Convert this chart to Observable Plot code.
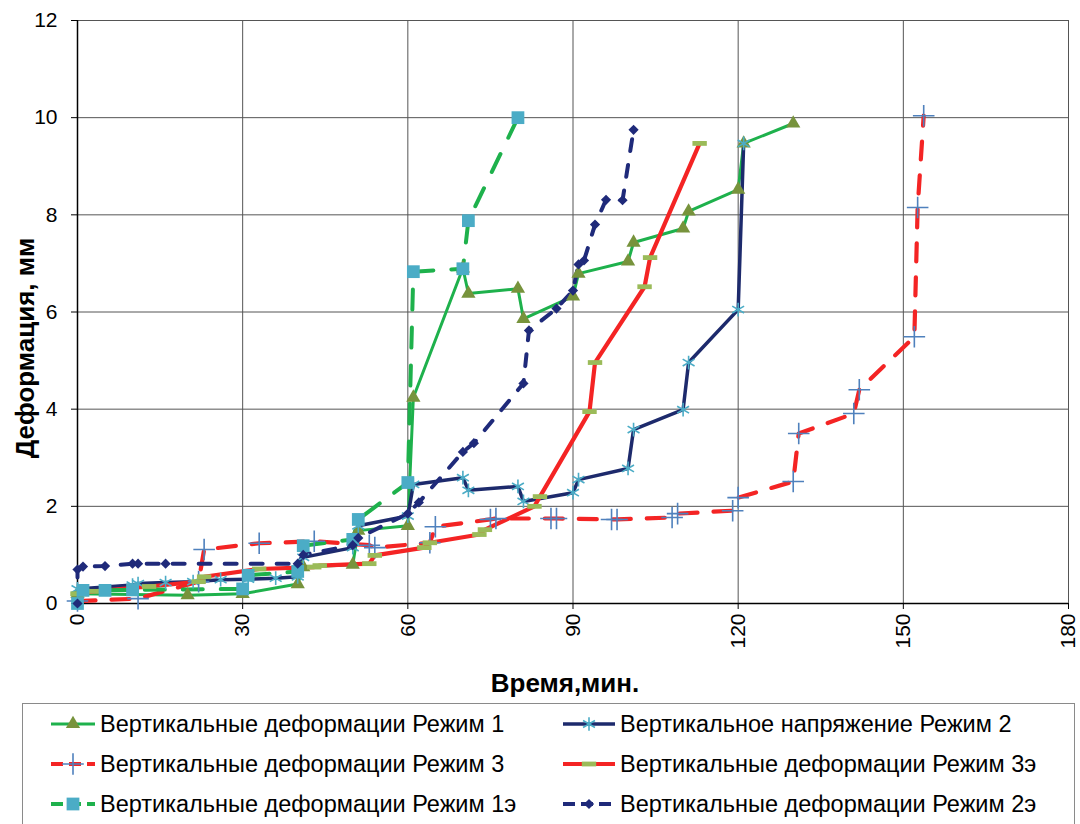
<!DOCTYPE html>
<html><head><meta charset="utf-8">
<script src="https://cdn.jsdelivr.net/npm/d3@7"></script>
<script src="https://cdn.jsdelivr.net/npm/@observablehq/plot@0.6"></script>
<style>
body{margin:0;background:#fff;font-family:"Liberation Sans",Arial,sans-serif;}
#chart svg{display:block}
#legend{position:absolute;left:22px;top:703px;width:1053px;height:140px;border:1.5px solid #8a8a8a;box-sizing:border-box;background:#fff}
.item{position:absolute;display:flex;align-items:center;font-size:23.5px;color:#000;white-space:nowrap;height:30px}
.item svg{display:block}
</style></head><body>
<div id="chart"></div><div id="legend"></div>
<script>
// ---- data ----
const xTicks = [0, 30, 60, 90, 120, 150, 180];
const yTicks = [0, 2, 4, 6, 8, 10, 12];
const seriesNames = [
  "Вертикальные деформации Режим 1",
  "Вертикальное напряжение Режим 2",
  "Вертикальные деформации Режим 3",
  "Вертикальные деформации Режим 3э",
  "Вертикальные деформации Режим 1э",
  "Вертикальные деформации Режим 2э"
];
const xLabel = "Время,мин.";
const yLabel = "Деформация, мм";

const rezhim1 = [[0,0.2],[20,0.17],[30,0.2],[40,0.4],[41,0.75],[50,0.8],[51,1.5],[60,1.6],[61,4.24],[70,6.9],[71,6.38],[80,6.48],[81,5.86],[90,6.32],[91,6.79],[100,7.04],[101,7.43],[110,7.72],[111,8.07],[120,8.52],[121,9.47],[130,9.88]];
const rezhim2 = [[0,0.3],[10,0.38],[11,0.41],[16,0.43],[21,0.45],[26,0.49],[31,0.5],[36,0.52],[40,0.55],[41,0.95],[50,1.15],[51,1.6],[60,1.8],[61,2.45],[70,2.59],[71,2.33],[80,2.41],[81,2.1],[90,2.28],[91,2.55],[100,2.78],[101,3.58],[110,3.99],[111,4.96],[120,6.05],[121,9.47]];
const rezhim3 = [[0,0.05],[11,0.1],[22,0.45],[23,1.11],[33,1.24],[43,1.28],[53,1.2],[54,1.15],[64,1.25],[65,1.58],[75,1.73],[76,1.75],[86,1.75],[87,1.75],[97,1.73],[98,1.73],[108,1.77],[109,1.85],[119,1.91],[120,2.18],[130,2.51],[131,3.5],[141,3.91],[142,4.4],[152,5.49],[152.6,8.15],[153.7,10.04]];
const rezhim3e = [[0,0.2],[3,0.25],[13,0.35],[22,0.45],[23,0.55],[33,0.71],[43,0.75],[44,0.78],[53,0.82],[54,0.99],[63,1.15],[64,1.25],[73,1.42],[74,1.52],[83,2.0],[84,2.2],[93,3.95],[94,4.96],[103,6.52],[104,7.12],[113,9.47]];
const rezhim1e = [[0,0],[1,0.27],[5,0.27],[10,0.28],[30,0.3],[31,0.58],[40,0.66],[41,1.19],[50,1.32],[51,1.73],[60,2.49],[61,6.83],[70,6.89],[71,7.88],[80,10.0]];
const rezhim2e = [[0,0],[0,0.7],[1,0.76],[5,0.77],[10,0.82],[11,0.82],[16,0.82],[40,0.82],[41,1.0],[50,1.2],[51,1.35],[60,1.85],[62,2.08],[70,3.12],[72,3.3],[81,4.53],[82,5.62],[87,6.07],[90,6.44],[91,6.98],[92,7.06],[94,7.8],[96,8.31],[99,8.3],[101,9.75]];

// ---- styles ----
const dashSymbol = {draw(ctx, size){ const r = Math.sqrt(size/Math.PI); const w = r*1.2, h = r*0.4;
  ctx.moveTo(-w,-h); ctx.lineTo(w,-h); ctx.lineTo(w,h); ctx.lineTo(-w,h); ctx.closePath(); }};
const series = [
  {name: seriesNames[0], data: rezhim1, stroke:"#1eb14c", width:3, dash:null, symbol:"triangle", r:5.3, fill:"#77933c", mstroke:"none"},
  {name: seriesNames[1], data: rezhim2, stroke:"#1d2a6c", width:3.5, dash:null, symbol:"asterisk", r:6.5, fill:"none", mstroke:"#4bacc6"},
  {name: seriesNames[2], data: rezhim3, stroke:"#f42424", width:4.2, dash:"18,16", symbol:"plus", r:7, fill:"none", mstroke:"#4f81bd"},
  {name: seriesNames[3], data: rezhim3e, stroke:"#f42424", width:4.2, dash:null, symbol:dashSymbol, r:6, fill:"#9bbb59", mstroke:"none"},
  {name: seriesNames[4], data: rezhim1e, stroke:"#1eb14c", width:4, dash:"20,18", symbol:"square", r:7.2, fill:"#4bacc6", mstroke:"none"},
  {name: seriesNames[5], data: rezhim2e, stroke:"#1f2a7a", width:4, dash:"12,14", symbol:"diamond2", r:4.6, fill:"#1f2a7a", mstroke:"none"}
];

const marks = [
  Plot.gridX(xTicks, {stroke:"#555", strokeOpacity:1, strokeWidth:1}),
  Plot.gridY(yTicks, {stroke:"#555", strokeOpacity:1, strokeWidth:1}),
  Plot.axisY(yTicks, {tickSize:6, tickPadding:14, label:null, fontSize:21}),
  Plot.axisX(xTicks, {tickSize:6, tickPadding:4, tickRotate:-90, label:null, fontSize:21}),
  Plot.text([yLabel], {frameAnchor:"left", textAnchor:"middle", lineAnchor:"middle", rotate:-90, dx:-52, dy:36, fontSize:26, fontWeight:"bold", fill:"#000"}),
  Plot.text([xLabel], {frameAnchor:"bottom", textAnchor:"middle", lineAnchor:"middle", dx:-8, dy:80, fontSize:26, fontWeight:"bold", fill:"#000"}),
  Plot.ruleX([0], {stroke:"#000", strokeWidth:1.5}),
  Plot.ruleY([0], {stroke:"#000", strokeWidth:1.5})
];
for (const s of series) {
  const rows = s.data.map(([t,v]) => ({t, v}));
  marks.push(Plot.line(rows, {x:"t", y:"v", stroke:s.stroke, strokeWidth:s.width, strokeDasharray:s.dash, strokeLinecap: s.dash ? "round" : "butt", strokeLinejoin:"round"}));
}
for (const s of series) {
  const rows = s.data.map(([t,v]) => ({t, v}));
  marks.push(Plot.dot(rows, {x:"t", y:"v", symbol:s.symbol, r:s.r, fill:s.fill, stroke:s.mstroke, strokeWidth:1.6}));
}

const chart = Plot.plot({
  width:1080, height:700,
  marginLeft:77, marginRight:12, marginTop:20, marginBottom:97,
  style:{fontFamily:"'Liberation Sans', Arial, sans-serif", fontSize:"21px", color:"#000", background:"#fff"},
  x:{domain:[0,180]},
  y:{domain:[0,12]},
  marks
});
document.getElementById("chart").appendChild(chart);

// ---- legend ----
const legend = d3.select("#legend");
// [left, top, icon width] in legend box
const pos = [[25,5,50],[537,5,58],[25,45,50],[537,45,58],[25,85,50],[537,85,58]];
const symType = s => typeof s.symbol === "string" ? ({triangle:d3.symbolTriangle, asterisk:d3.symbolAsterisk, plus:d3.symbolPlus, square:d3.symbolSquare, diamond2:d3.symbolDiamond2})[s.symbol] : s.symbol;
series.forEach((s,i) => {
  const [lx, ly, w] = pos[i];
  const it = legend.append("div").attr("class","item").style("left", lx+"px").style("top", ly+"px");
  const svg = it.append("svg").attr("width",w).attr("height",30);
  svg.append("line").attr("x1",3).attr("x2",w-3).attr("y1",15).attr("y2",15)
     .attr("stroke",s.stroke).attr("stroke-width",s.width).attr("stroke-dasharray", s.dash ? "12,6" : null);
  svg.append("path").attr("transform",`translate(${w/2},15)`)
     .attr("d", d3.symbol(symType(s), s.r*s.r*Math.PI)())
     .attr("fill", s.fill).attr("stroke", s.mstroke).attr("stroke-width",1.6);
  it.append("span").text(s.name).style("margin-left","2px");
});
</script>
</body></html>
